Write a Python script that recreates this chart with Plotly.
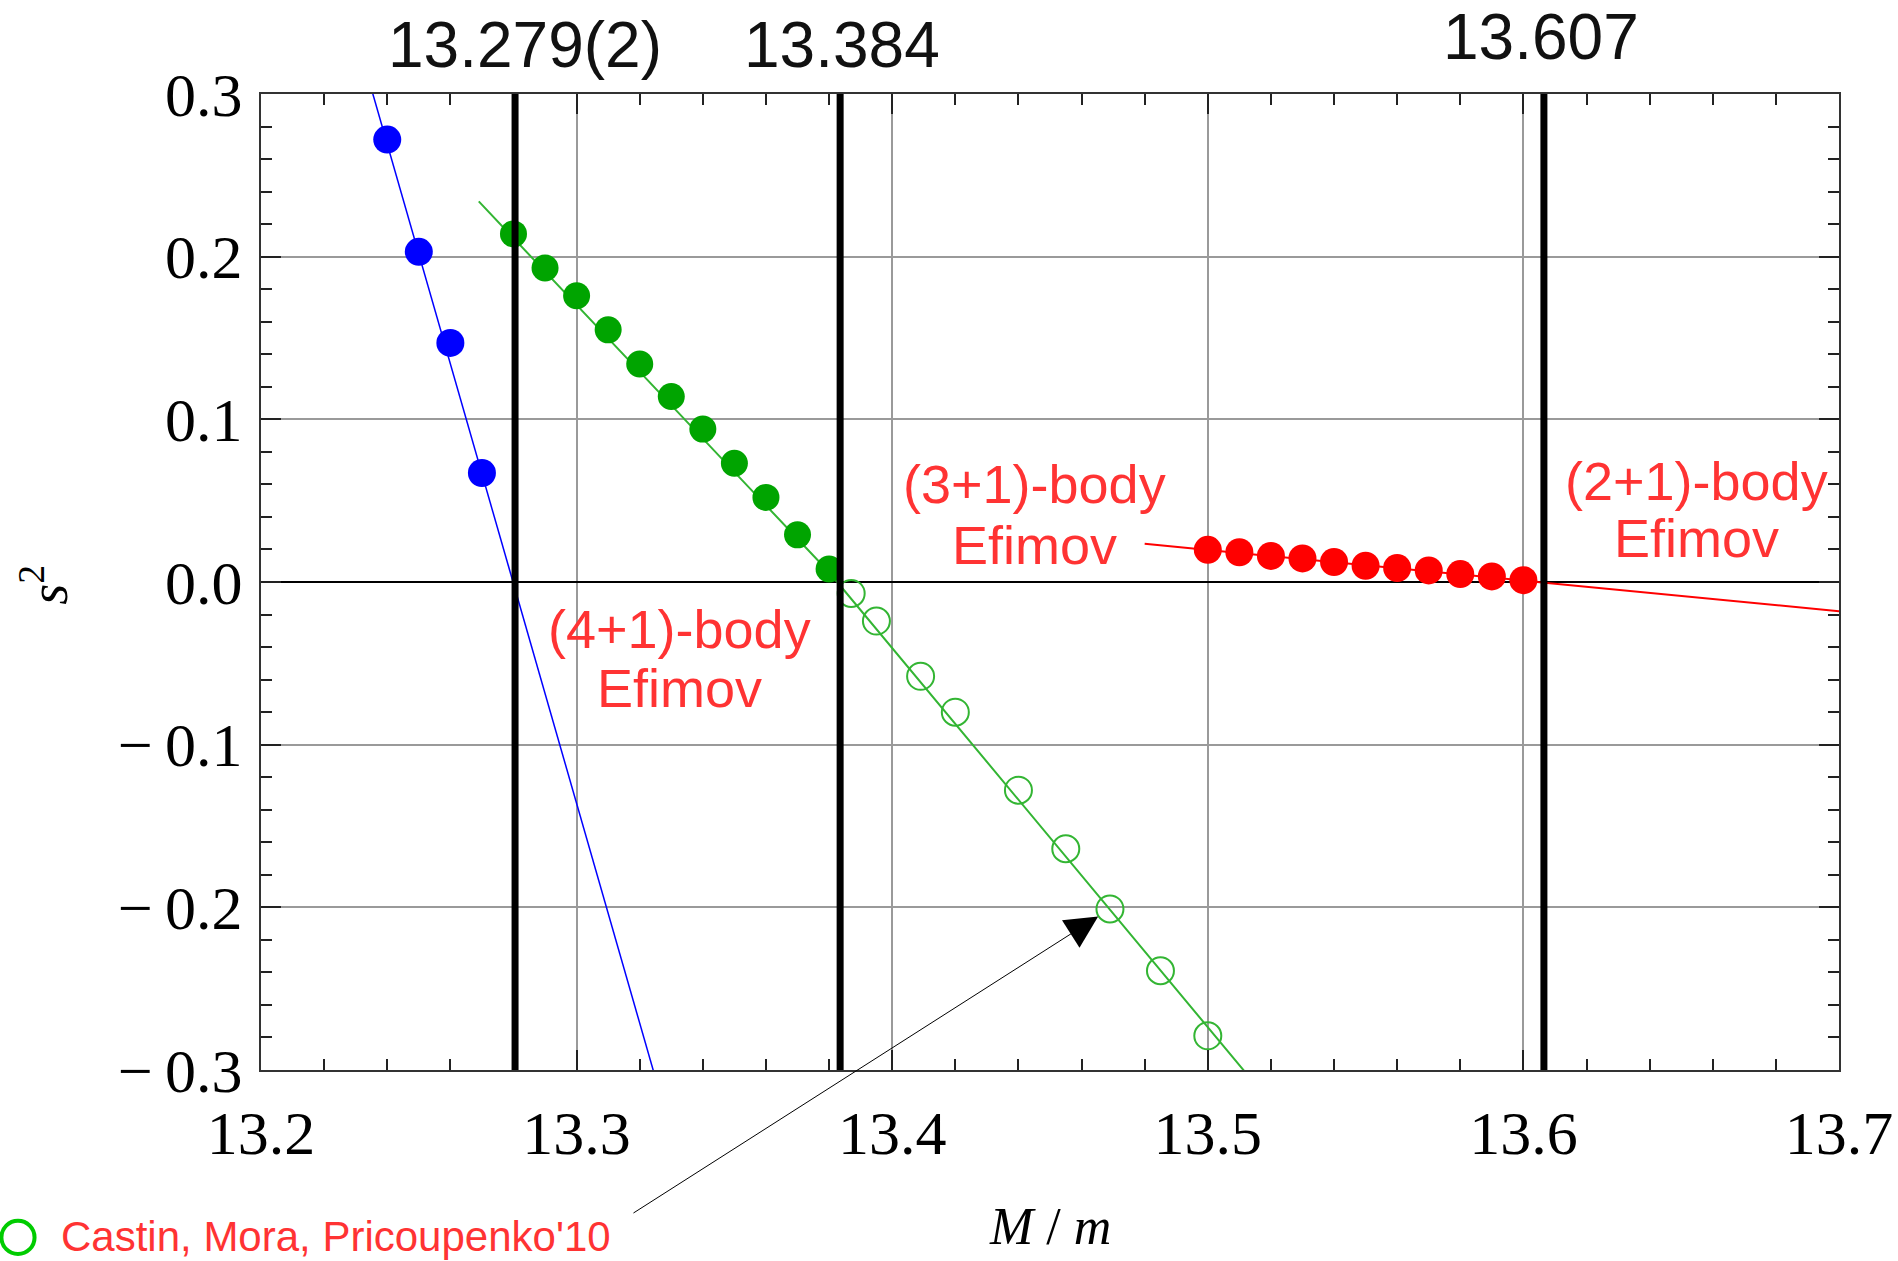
import plotly.graph_objects as go

# ---------------- data ----------------
blue_x = [13.24, 13.25, 13.26, 13.27]
blue_y = [0.272, 0.203, 0.147, 0.067]
blue_fit_x = [13.235, 13.325]
blue_fit_y = [0.303, -0.305]

green_filled_x = [13.28, 13.29, 13.30, 13.31, 13.32, 13.33, 13.34, 13.35, 13.36, 13.37, 13.38]
green_filled_y = [0.214, 0.193, 0.176, 0.155, 0.134, 0.114, 0.094, 0.073, 0.052, 0.029, 0.008]
green_open_x = [13.387, 13.395, 13.409, 13.420, 13.440, 13.455, 13.469, 13.485, 13.500]
green_open_y = [-0.007, -0.024, -0.058, -0.080, -0.128, -0.164, -0.201, -0.239, -0.279]
green_fit_x = [13.269, 13.380, 13.513]
green_fit_y = [0.234, 0.006, -0.304]

red_x = [13.50, 13.51, 13.52, 13.53, 13.54, 13.55, 13.56, 13.57, 13.58, 13.59, 13.60]
red_y = [0.0198, 0.0183, 0.0160, 0.0145, 0.0123, 0.0100, 0.0086, 0.0071, 0.0049, 0.0034, 0.0011]
red_fit_x = [13.48, 13.70]
red_fit_y = [0.0235, -0.018]

thresholds = [13.2805, 13.3835, 13.6065]
threshold_labels = ["13.279(2)", "13.384", "13.607"]

x_ticks = [13.2, 13.3, 13.4, 13.5, 13.6, 13.7]
x_ticktext = ["13.2", "13.3", "13.4", "13.5", "13.6", "13.7"]
y_ticks = [-0.3, -0.2, -0.1, 0.0, 0.1, 0.2, 0.3]
y_ticktext = ["\u2212\u20090.3", "\u2212\u20090.2", "\u2212\u20090.1", "0.0", "0.1", "0.2", "0.3"]

reference_label = "Castin, Mora, Pricoupenko'10"
arrow_index = 6

# ---------------- figure ----------------
fig = go.Figure()

fig.add_trace(go.Scatter(x=blue_fit_x, y=blue_fit_y, mode="lines",
                         line=dict(color="#0000ff", width=1.5), showlegend=False))
fig.add_trace(go.Scatter(x=green_fit_x, y=green_fit_y, mode="lines",
                         line=dict(color="#33b533", width=2), showlegend=False))
fig.add_trace(go.Scatter(x=red_fit_x, y=red_fit_y, mode="lines",
                         line=dict(color="#ff0000", width=2), showlegend=False))

fig.add_trace(go.Scatter(x=blue_x, y=blue_y, mode="markers",
                         marker=dict(color="#0000ff", size=28, line=dict(width=0)),
                         showlegend=False))
fig.add_trace(go.Scatter(x=green_filled_x, y=green_filled_y, mode="markers",
                         marker=dict(color="#00a400", size=27, line=dict(width=0)),
                         showlegend=False))
fig.add_trace(go.Scatter(x=green_open_x, y=green_open_y, mode="markers",
                         marker=dict(symbol="circle-open", color="#33b533", size=27,
                                     line=dict(width=2, color="#33b533")),
                         showlegend=False))
fig.add_trace(go.Scatter(x=red_x, y=red_y, mode="markers",
                         marker=dict(color="#ff0000", size=28, line=dict(width=0)),
                         showlegend=False))

shapes = []
for xv in thresholds:
    shapes.append(dict(type="line", xref="x", yref="paper", x0=xv, x1=xv, y0=0, y1=1,
                       line=dict(color="black", width=7), layer="above"))
# legend-like open circle
shapes.append(dict(type="circle", xref="paper", yref="paper",
                   x0=-0.1645, x1=-0.1435, y0=-0.1545, y1=-0.1885,
                   line=dict(color="#00cc00", width=4)))

annotations = []
shifts = [10, 2, -3]
ys = [1.050, 1.050, 1.058]
for xv, lab, sh, yy in zip(thresholds, threshold_labels, shifts, ys):
    annotations.append(dict(x=xv, y=yy, xref="x", yref="paper", text=lab, showarrow=False,
                            xshift=sh, xanchor="center", yanchor="middle",
                            font=dict(family="Liberation Sans", size=64, color="#111111")))

red_txt = dict(family="Liberation Sans", size=54, color="#ff3333")
for (xv, y1, y2, t1) in [(13.445, 0.060, 0.0228, "(3+1)-body"),
                         (13.655, 0.0623, 0.0273, "(2+1)-body"),
                         (13.3325, -0.029, -0.065, "(4+1)-body")]:
    annotations.append(dict(x=xv, y=y1, xref="x", yref="y", text=t1, showarrow=False,
                            xanchor="center", yanchor="middle", font=red_txt))
    annotations.append(dict(x=xv, y=y2, xref="x", yref="y", text="Efimov", showarrow=False,
                            xanchor="center", yanchor="middle", font=red_txt))

annotations.append(dict(x=-0.128, y=-0.171, xref="paper", yref="paper", text=reference_label,
                        showarrow=False, xanchor="left", yanchor="middle",
                        font=dict(family="Liberation Sans", size=42, color="#ff3333")))

annotations.append(dict(x=green_open_x[arrow_index], y=green_open_y[arrow_index],
                        xref="x", yref="y", text="", showarrow=True,
                        ax=-478, ay=305, axref="pixel", ayref="pixel",
                        arrowhead=2, arrowsize=6.5, arrowwidth=1, arrowcolor="black",
                        standoff=14))

# axis titles
annotations.append(dict(x=0.5, y=-0.16, xref="paper", yref="paper",
                        text="<i>M</i> / <i>m</i>", showarrow=False,
                        xanchor="center", yanchor="middle",
                        font=dict(family="Liberation Serif", size=52, color="black")))
annotations.append(dict(x=-0.137, y=0.497, xref="paper", yref="paper",
                        text="<i>s</i><sup>2</sup>", showarrow=False, textangle=-90,
                        xanchor="center", yanchor="middle",
                        font=dict(family="Liberation Serif", size=54, color="black")))

axis_common = dict(
    showline=True, linecolor="#333333", linewidth=2, mirror="ticks",
    ticks="inside", tickcolor="#222222", tickwidth=2, ticklen=20,
    showgrid=True, gridcolor="#9a9a9a", gridwidth=1.5, automargin=False,
    tickfont=dict(family="Liberation Serif", size=62, color="black"),
)

fig.update_layout(
    width=1898, height=1261,
    margin=dict(l=261, r=59, t=94, b=191, autoexpand=False),
    paper_bgcolor="white", plot_bgcolor="white",
    showlegend=False,
    shapes=shapes, annotations=annotations,
    xaxis=dict(range=[13.2, 13.7], tickvals=x_ticks, ticktext=x_ticktext, zeroline=False,
               ticklabelstandoff=8,
               minor=dict(dtick=0.02, tick0=13.2, ticks="inside", ticklen=11,
                          tickcolor="#222222", tickwidth=2, showgrid=False),
               **axis_common),
    yaxis=dict(range=[-0.3, 0.3], tickvals=y_ticks, ticktext=y_ticktext,
               zeroline=True, zerolinecolor="black", zerolinewidth=2,
               ticklabelstandoff=4,
               minor=dict(dtick=0.02, tick0=-0.3, ticks="inside", ticklen=11,
                          tickcolor="#222222", tickwidth=2, showgrid=False),
               **axis_common),
)

fig.write_html("out.html")
